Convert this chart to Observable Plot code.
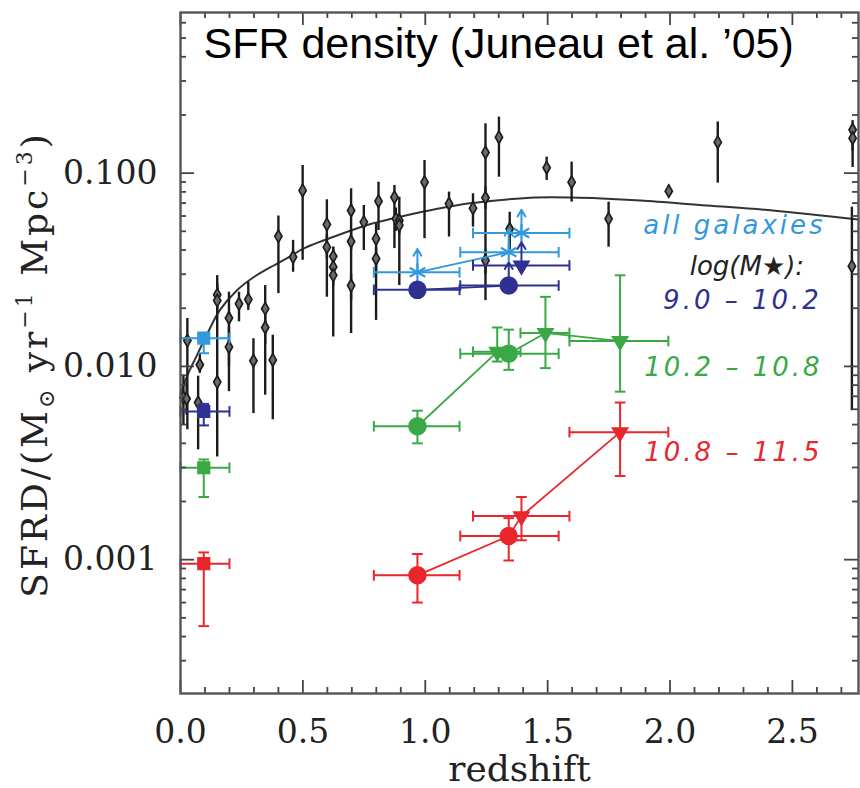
<!DOCTYPE html>
<html><head><meta charset="utf-8">
<script src="https://cdn.jsdelivr.net/npm/d3@7"></script>
<script src="https://cdn.jsdelivr.net/npm/@observablehq/plot@0.6"></script>
<style>body{margin:0;background:#fff}#chart svg{display:block}</style>
</head><body><div id="chart"></div>
<script>
// ---------- data ----------
const titleText = "SFR density (Juneau et al. \u201905)";
const xLabel = "redshift";
const xTickValues = [0, 0.5, 1, 1.5, 2, 2.5];
const xTickLabels = ["0.0", "0.5", "1.0", "1.5", "2.0", "2.5"];
const yTickValues = [0.001, 0.01, 0.1];
const yTickLabels = ["0.001", "0.010", "0.100"];
const legendLabels = ["all galaxies", "log(M\u2605):", "9.0 \u2013 10.2", "10.2 \u2013 10.8", "10.8 \u2013 11.5"];

// compilation (black diamonds): redshift, SFRD, lower, upper
const compZ  = [0.012,0.028,0.025,0.072,0.079,0.150,0.150,0.150,0.198,0.198,0.239,0.277,0.298,0.346,0.346,0.377,0.400,0.460,0.499,0.598,0.598,0.624,0.624,0.624,0.697,0.697,0.697,0.749,0.809,0.799,0.799,0.874,0.880,0.894,0.894,0.997,1.097,1.195,1.246,1.246,1.246,1.301,1.345,1.496,1.598,1.749,1.995,2.195,2.746,2.746,2.743];
const compV  = [0.0069,0.0136,0.0068,0.0065,0.0102,0.0235,0.0219,0.0083,0.0178,0.0126,0.0211,0.0222,0.0107,0.0199,0.0159,0.0108,0.0471,0.0368,0.0814,0.0543,0.0414,0.0371,0.0327,0.0296,0.0641,0.0443,0.0262,0.0558,0.0716,0.0458,0.0361,0.0751,0.0580,0.0569,0.0537,0.0898,0.0695,0.0659,0.1280,0.0746,0.0353,0.1535,0.0515,0.1067,0.0898,0.0580,0.0807,0.1446,0.1676,0.1517,0.0330];
const compLo = [0.0050,0.0047,0.0056,0.0037,0.0092,0.0210,0.0190,0.0034,0.0074,0.0100,0.0170,0.0195,0.0057,0.0071,0.0130,0.0053,0.0238,0.0307,0.0354,0.0228,0.0360,0.0330,0.0142,0.0260,0.0148,0.0400,0.0220,0.0398,0.0505,0.0173,0.0310,0.0407,0.0500,0.0262,0.0480,0.0458,0.0467,0.0526,0.0219,0.0650,0.0300,0.0953,0.0400,0.0917,0.0708,0.0414,0.0751,0.0888,0.1070,0.1300,0.0059];
const compHi = [0.0090,0.0177,0.0082,0.0089,0.0117,0.0270,0.0255,0.0295,0.0242,0.0160,0.0242,0.0273,0.0139,0.0262,0.0200,0.0145,0.0600,0.0449,0.1096,0.0728,0.0480,0.0414,0.0414,0.0330,0.0830,0.0500,0.0300,0.0680,0.0898,0.0548,0.0410,0.0864,0.0660,0.0751,0.0600,0.1163,0.0798,0.0782,0.1800,0.0850,0.0400,0.1950,0.0628,0.1210,0.1140,0.0708,0.0864,0.1840,0.1870,0.1700,0.0667];

// fitted curve, read point by point
const fitZ = [0, 0.03, 0.064, 0.11, 0.16, 0.23, 0.30, 0.37, 0.45, 0.50, 0.64, 0.78, 0.92, 1.05, 1.19, 1.30, 1.45, 1.60, 1.72, 1.88, 2.15, 2.42, 2.77];
const fitV = [0.0072, 0.0091, 0.0112, 0.0148, 0.0195, 0.0247, 0.0290, 0.0327, 0.0372, 0.0406, 0.0476, 0.0547, 0.0604, 0.0654, 0.0700, 0.0725, 0.0748, 0.0748, 0.0740, 0.0722, 0.0680, 0.0641, 0.0576];

// rows: z, SFRD, zLow, zHigh, sfrdLow, sfrdHigh, kind, lowerLimit, joined
const allGalaxies = [
  [0.095, 0.0140, 0.0, 0.2, 0.0117, 0.0148, "local", false, false],
  [0.968, 0.0307, 0.79, 1.14, null, null, "circle", true, true],
  [1.341, 0.0390, 1.143, 1.545, null, null, "circle", true, true],
  [1.393, 0.0490, 1.195, 1.589, null, null, "triangle", true, false]
];
const mass90to102 = [
  [0.095, 0.00585, 0.0, 0.2, 0.00495, 0.0064, "local", false, false],
  [0.968, 0.0249, 0.79, 1.14, null, null, "circle", false, true],
  [1.341, 0.0262, 1.143, 1.545, null, null, "circle", true, true],
  [1.393, 0.0333, 1.195, 1.589, null, null, "triangle", true, false]
];
const mass102to108 = [
  [0.095, 0.00299, 0.0, 0.2, 0.00211, 0.0033, "local", false, false],
  [0.968, 0.0049, 0.79, 1.14, 0.0040, 0.0059, "circle", false, true],
  [1.294, 0.0119, 1.195, 1.389, 0.0106, 0.0159, "triangle", false, true],
  [1.341, 0.01164, 1.143, 1.545, 0.0096, 0.0155, "circle", false, true],
  [1.491, 0.0149, 1.389, 1.589, 0.0098, 0.0229, "triangle", false, true],
  [1.796, 0.01352, 1.589, 1.993, 0.0074, 0.0296, "triangle", false, true]
];
const mass108to115 = [
  [0.095, 0.000953, 0.0, 0.2, 0.000453, 0.00109, "local", false, false],
  [0.968, 0.00083, 0.79, 1.14, 0.00060, 0.00107, "circle", false, true],
  [1.341, 0.001325, 1.143, 1.545, 0.00099, 0.00164, "circle", false, true],
  [1.393, 0.00168, 1.195, 1.589, 0.00126, 0.00211, "triangle", false, true],
  [1.796, 0.00457, 1.589, 1.993, 0.00271, 0.0065, "triangle", false, true]
];

// ---------- build ----------
const W = 860, H = 788, mL = 180, mR = 2, mT = 12, mB = 95;
const plotW = W - mL - mR, plotH = H - mT - mB;
const toRows = a => a.map(r => ({z:r[0], v:r[1], zlo:r[2], zhi:r[3], vlo:r[4], vhi:r[5], kind:r[6], limit:r[7], joined:r[8]}));
const comp = compZ.map((z, i) => ({z, v: compV[i], lo: compLo[i], hi: compHi[i]}));
const fit = fitZ.map((z, i) => ({z, v: fitV[i]}));

const capH = {draw(c, s){ const w = Math.sqrt(s) / 2; c.moveTo(-w, 0); c.lineTo(w, 0); }};
const capV = {draw(c, s){ const w = Math.sqrt(s) / 2; c.moveTo(0, -w); c.lineTo(0, w); }};
const triDown = {draw(c, size){ const s = Math.sqrt(size); c.moveTo(-0.62*s, -0.34*s); c.lineTo(0.62*s, -0.34*s); c.lineTo(0, 0.72*s); c.closePath(); }};

const series = [
  {rows: toRows(allGalaxies), color: "#3399dd", deep: "asterisk"},
  {rows: toRows(mass90to102), color: "#2e3192", deep: null},
  {rows: toRows(mass102to108), color: "#39a845", deep: null},
  {rows: toRows(mass108to115), color: "#e8262b", deep: null}
];

const xMinor = d3.range(1, 28).map(i => i / 10).filter(v => Math.abs(v * 2 - Math.round(v * 2)) > 1e-6);
const yMinor = [];
for (const dec of [1e-4, 1e-3, 1e-2, 1e-1]) for (let k = 2; k <= 9; k++) { const v = k * dec; if (v > 0.000203 && v < 0.678) yMinor.push(v); }

const tickStyle = {stroke: "#444", strokeWidth: 1.8};
const colorMarks = series.flatMap(({rows, color, deep}) => {
  const st = {stroke: color, strokeWidth: 2};
  const withV = rows.filter(d => d.vlo != null);
  const marks = [
    Plot.line(rows.filter(d => d.joined), {x: "z", y: "v", stroke: color, strokeWidth: 1.8}),
    Plot.ruleY(rows, {y: "v", x1: "zlo", x2: "zhi", ...st}),
    Plot.dot(rows, {x: "zlo", y: "v", symbol: capV, r: 6, fill: "none", ...st}),
    Plot.dot(rows, {x: "zhi", y: "v", symbol: capV, r: 6, fill: "none", ...st}),
    Plot.ruleX(withV, {x: "z", y1: "vlo", y2: "vhi", ...st}),
    Plot.dot(withV, {x: "z", y: "vlo", symbol: capH, r: 6, fill: "none", ...st}),
    Plot.dot(withV, {x: "z", y: "vhi", symbol: capH, r: 6, fill: "none", ...st}),
    Plot.dot(rows.filter(d => d.kind === "local"), {x: "z", y: "v", symbol: "square", r: 6.6, fill: color, stroke: color})
  ];
  if (deep === "asterisk") {
    marks.push(Plot.dot(rows.filter(d => d.kind !== "local"), {x: "z", y: "v", symbol: "asterisk", r: 8.5, stroke: color, strokeWidth: 2.2}));
  } else {
    marks.push(Plot.dot(rows.filter(d => d.kind === "circle"), {x: "z", y: "v", symbol: "circle", r: 8.5, fill: color, stroke: color}));
    marks.push(Plot.dot(rows.filter(d => d.kind === "triangle"), {x: "z", y: "v", symbol: triDown, r: 7, fill: color, stroke: color}));
  }
  marks.push(Plot.arrow(rows.filter(d => d.limit), {x: "z", y1: "v", y2: d => d.v * 1.32, stroke: color, strokeWidth: 2, headLength: 11}));
  return marks;
});

const legendFont = {fontFamily: "DejaVu Sans", fontStyle: "italic", fontSize: 26, textAnchor: "middle", lineAnchor: "bottom"};

const chart = Plot.plot({
  width: W, height: H,
  marginLeft: mL, marginRight: mR, marginTop: mT, marginBottom: mB,
  x: {domain: [0, 2.77]},
  y: {type: "log", domain: [0.000203, 0.678]},
  style: {background: "#fff", color: "#222"},
  marks: [
    Plot.line(fit, {x: "z", y: "v", curve: "catmull-rom", stroke: "#333", strokeWidth: 2}),
    Plot.ruleX(comp, {x: "z", y1: "lo", y2: "hi", stroke: "#1c1c1c", strokeWidth: 2.4}),
    Plot.dot(comp, {x: "z", y: "v", symbol: "diamond", r: 3.8, fill: "#6a6a6a", stroke: "#1c1c1c", strokeWidth: 1.7}),
    ...colorMarks,
    // ticks on all four sides, pointing inward
    Plot.ruleX(xTickValues, {x: d => d, insetTop: plotH - 13, ...tickStyle}),
    Plot.ruleX(xTickValues, {x: d => d, insetBottom: plotH - 13, ...tickStyle}),
    Plot.ruleX(xMinor, {x: d => d, insetTop: plotH - 6, ...tickStyle}),
    Plot.ruleX(xMinor, {x: d => d, insetBottom: plotH - 6, ...tickStyle}),
    Plot.ruleY(yTickValues, {y: d => d, insetRight: plotW - 14, ...tickStyle}),
    Plot.ruleY(yTickValues, {y: d => d, insetLeft: plotW - 14, ...tickStyle}),
    Plot.ruleY(yMinor, {y: d => d, insetRight: plotW - 6, ...tickStyle}),
    Plot.ruleY(yMinor, {y: d => d, insetLeft: plotW - 6, ...tickStyle}),
    Plot.frame({stroke: "#555", strokeWidth: 2.4}),
    Plot.axisX(xTickValues, {tickSize: 0, tickPadding: 26, tickFormat: d => xTickLabels[xTickValues.indexOf(d)], fontSize: 33, fontFamily: "DejaVu Serif", label: null}),
    Plot.axisY(yTickValues, {tickSize: 0, tickPadding: 23, tickFormat: d => yTickLabels[yTickValues.indexOf(d)], fontSize: 33, fontFamily: "DejaVu Serif", label: null}),
    Plot.text([xLabel], {text: d => d, frameAnchor: "bottom", dy: 87, lineAnchor: "bottom", fontSize: 36, fontFamily: "DejaVu Serif", fill: "#222"}),
    Plot.text([titleText], {text: d => d, frameAnchor: "top-left", dx: 23, dy: 15, lineAnchor: "top", textAnchor: "start", fontSize: 43, fontFamily: "Liberation Sans", fill: "#000"}),
    Plot.text([legendLabels[0]], {text: d => d, x: 2.263, y: 0.0486, fill: "#3399dd", ...legendFont}),
    Plot.text([legendLabels[1]], {text: d => d, x: 2.314, y: 0.0296, fill: "#222", ...legendFont}),
    Plot.text([legendLabels[2]], {text: d => d, x: 2.296, y: 0.01988, fill: "#2e3192", ...legendFont}),
    Plot.text([legendLabels[3]], {text: d => d, x: 2.259, y: 0.00888, fill: "#39a845", ...legendFont}),
    Plot.text([legendLabels[4]], {text: d => d, x: 2.259, y: 0.003225, fill: "#e8262b", ...legendFont})
  ]
});

const svg = d3.select(chart);
svg.selectAll("text").filter(function(){ return legendLabels.slice(0,1).concat(legendLabels.slice(2)).includes(this.textContent); }).style("letter-spacing", "3px");
// y-axis title with sub/superscripts
const t = svg.append("text")
  .attr("transform", `translate(47,${(mT + H - mB) / 2 + 12}) rotate(-90)`)
  .attr("text-anchor", "middle").attr("font-family", "DejaVu Serif").attr("font-size", 36)
  .attr("fill", "#222").style("letter-spacing", "3px");
t.append("tspan").text("SFRD/(M");
t.append("tspan").attr("font-size", 22).attr("dy", 7).text("\u2299");
t.append("tspan").attr("dy", -7).text(" yr");
t.append("tspan").attr("font-size", 22).attr("dy", -15).text("\u22121");
t.append("tspan").attr("dy", 15).text(" Mpc");
t.append("tspan").attr("font-size", 22).attr("dy", -15).text("\u22123");
t.append("tspan").attr("dy", 15).text(")");

document.getElementById("chart").appendChild(chart);
</script></body></html>
